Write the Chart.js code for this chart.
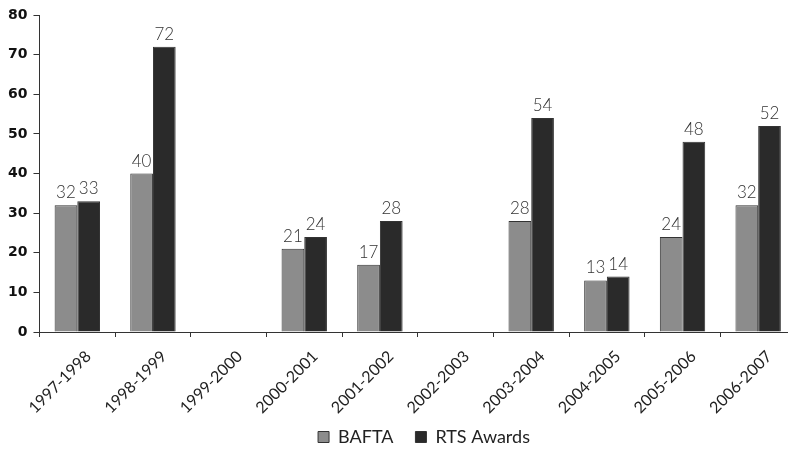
<!DOCTYPE html>
<html>
<head>
<meta charset="utf-8">
<script src="https://cdn.jsdelivr.net/npm/chart.js@4"></script>
<style>
  html, body { margin: 0; padding: 0; background: #fff; overflow: hidden; }
  #wrap { width: 788px; height: 451px; overflow: hidden; position: relative; }
  #box { position: absolute; left: 0; top: 0; width: 796px; height: 451px; }
</style>
</head>
<body>
<div id="wrap"><div id="box"><canvas id="myChart"></canvas></div></div>
<script>
const seasons = ["1997-1998", "1998-1999", "1999-2000", "2000-2001", "2001-2002",
  "2002-2003", "2003-2004", "2004-2005", "2005-2006", "2006-2007"];
const bafta = [32, 40, null, 21, 17, null, 28, 13, 24, 32];
const rtsAwards = [33, 72, null, 24, 28, null, 54, 14, 48, 52];
const yTicks = [0, 10, 20, 30, 40, 50, 60, 70, 80];

// numbers above each bar
const valueLabels = {
  id: "valueLabels",
  afterDatasetsDraw(chart) {
    const ctx = chart.ctx;
    ctx.save();
    ctx.font = "300 17px Lato";
    ctx.fillStyle = "#333";
    ctx.textAlign = "center";
    ctx.textBaseline = "alphabetic";
    chart.data.datasets.forEach((ds, i) => {
      chart.getDatasetMeta(i).data.forEach((bar, j) => {
        const v = ds.data[j];
        if (v === null) return;
        ctx.fillText(String(v), bar.x, bar.y - 7);
      });
    });
    ctx.restore();
  },
};

// legend sits a little right of centre and overlaps the label box in the original
const legendShift = {
  id: "legendShift",
  afterLayout(chart) {
    chart.legend.left += 25;
    chart.legend.right += 25;
    chart.legend.top -= 14;
  },
};

const element = document.getElementById("myChart");
new Chart(element, {
  type: "bar",
  data: {
    labels: seasons,
    datasets: [
      {
        label: "BAFTA",
        data: bafta,
        backgroundColor: "#8c8c8c",
        borderColor: "#333",
        borderWidth: 1,
      },
      {
        label: "RTS Awards",
        data: rtsAwards,
        backgroundColor: "#2a2a2a",
        borderColor: "#333",
        borderWidth: 1,
      },
    ],
  },
  options: {
    responsive: true,
    maintainAspectRatio: false,
    animation: false,
    devicePixelRatio: 1,
    layout: { padding: { top: 15, left: 2, right: 0, bottom: 0 } },
    datasets: { bar: { categoryPercentage: 0.6, barPercentage: 1 } },
    scales: {
      x: {
        afterFit(scale) {
          scale.height = 88;
        },
        grid: { display: true, drawOnChartArea: false, tickLength: 5, color: "#333", offset: true },
        border: { color: "#333", width: 1 },
        ticks: {
          minRotation: 45,
          maxRotation: 45,
          padding: 10,
          labelOffset: 11,
          color: "#222",
          font: { family: "Lato", size: 16 },
        },
      },
      y: {
        min: 0,
        max: 80,
        afterBuildTicks(axis) {
          axis.ticks = yTicks.map((v) => ({ value: v }));
        },
        grid: { display: true, drawOnChartArea: false, tickLength: 6, color: "#333" },
        border: { color: "#333", width: 1 },
        ticks: {
          padding: 6,
          color: "#111",
          font: { family: "DejaVu Sans", size: 14, weight: "bold" },
        },
      },
    },
    plugins: {
      tooltip: { enabled: false },
      legend: {
        position: "bottom",
        maxHeight: 31,
        labels: {
          boxWidth: 11,
          boxHeight: 11,
          padding: 22,
          color: "#222",
          font: { family: "Lato", size: 18 },
        },
      },
    },
  },
  plugins: [valueLabels, legendShift],
});
</script>
</body>
</html>
